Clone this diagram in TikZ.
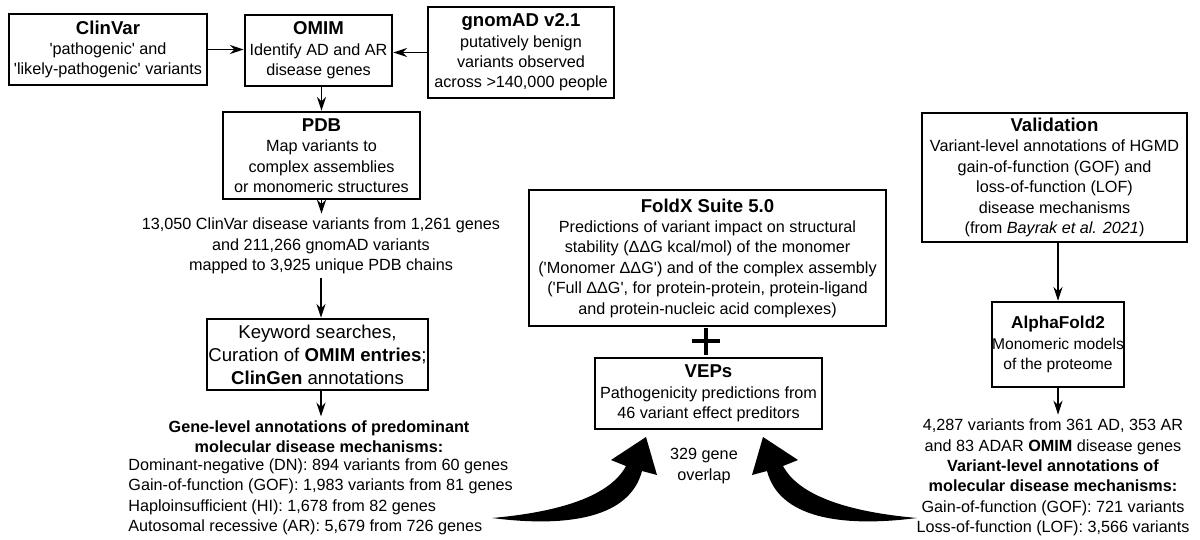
\documentclass[tikz,border=0pt]{standalone}
\usepackage{fontspec}
\setmainfont{Liberation Sans}
\usetikzlibrary{arrows.meta,calc}
\newcommand\hd[1]{{\fontsize{9.3}{11}\selectfont\bfseries #1}}
\newcommand\q{\textquotesingle}
\begin{document}
\begin{tikzpicture}[x=0.5pt,y=-0.5pt,
  every node/.style={font=\fontsize{8.1}{10.2}\selectfont, align=center, inner sep=0pt},
  box/.style={draw, line width=1.25pt},
  free/.style={inner sep=2pt},
  arr/.style={-{Stealth[length=7pt,width=4.6pt,inset=2.3pt]}, line width=0.55pt},
  bigarrow/.style={fill=black},
  plusbar/.style={line width=2.1pt},
]
\useasboundingbox (0,0) rectangle (1200,540);

% boxes
\node[box, minimum width=99pt, minimum height=35.5pt] (clinvar) at (108,49.5)
  {\hd{ClinVar}\\\q pathogenic\q{} and\\\q likely-pathogenic\q{} variants};
\node[box, minimum width=73.5pt, minimum height=35.5pt] (omim) at (318.5,50.5)
  {\hd{OMIM}\\Identify AD and AR\\disease genes};
\node[box, minimum width=93pt, minimum height=45.5pt] (gnomad) at (521,52.5)
  {\hd{gnomAD v2.1}\\putatively benign\\variants observed\\across >140,000 people};
\node[box, minimum width=98.5pt, minimum height=43.5pt] (pdb) at (321.5,155.5)
  {\hd{PDB}\\Map variants to\\complex assemblies\\or monomeric structures};
\node[free] (mapped) at (321,246)
  {13,050 ClinVar disease variants from 1,261 genes\\and 211,266 gnomAD variants\\mapped to 3,925 unique PDB chains};
\node[box, minimum width=110.5pt, minimum height=35.5pt, font=\fontsize{9.3}{11.5}\selectfont] (keyword) at (317.5,354.5)
  {Keyword searches,\\Curation of \textbf{OMIM entries};\\\textbf{ClinGen} annotations};
\node[free, font=\fontsize{8.1}{10.2}\selectfont\bfseries] (genehead) at (319,437)
  {Gene-level annotations of predominant\\molecular disease mechanisms:};
\node[anchor=west, align=left] (genelist) at (128,497)
  {Dominant-negative (DN): 894 variants from 60 genes\\
   Gain-of-function (GOF): 1,983 variants from 81 genes\\
   Haploinsufficient (HI): 1,678 from 82 genes\\
   Autosomal recessive (AR): 5,679 from 726 genes};

\node[box, minimum width=178.5pt, minimum height=68pt] (foldx) at (707.5,258)
  {\hd{FoldX Suite 5.0}\\Predictions of variant impact on structural\\
   stability (ΔΔG kcal/mol) of the monomer\\
   (\q Monomer ΔΔG\q) and of the complex assembly\\
   (\q Full ΔΔG\q, for protein-protein, protein-ligand\\
   and protein-nucleic acid complexes)};
\node[box, minimum width=113.5pt, minimum height=35.5pt] (veps) at (708.5,393.5)
  {\hd{VEPs}\\Pathogenicity predictions from\\46 variant effect preditors};
\node (overlap) at (704,466) {329 gene\\overlap};

\node[box, minimum width=132.5pt, minimum height=64.5pt] (valid) at (1054.5,177.5)
  {\hd{Validation}\\Variant-level annotations of HGMD\\gain-of-function (GOF) and\\
   loss-of-function (LOF)\\disease mechanisms\\(from \textit{Bayrak et al. 2021})};
\node[box, minimum width=46pt, minimum height=42.5pt, font=\fontsize{7.8}{10.2}\selectfont] (alpha) at (1058,344.5)
  {{\fontsize{8.6}{11}\selectfont\bfseries AlphaFold2}\\Monomeric models\\of the proteome};
\node[free] (varlevel) at (1053,477.5)
  {4,287 variants from 361 AD, 353 AR\\
   and 83 ADAR \textbf{OMIM} disease genes\\
   \textbf{Variant-level annotations of}\\
   \textbf{molecular disease mechanisms:}\\
   Gain-of-function (GOF): 721 variants\\
   Loss-of-function (LOF): 3,566 variants};

% connectors
\draw[arr] (clinvar.east) -- (clinvar.east -| omim.west);
\draw[arr] (gnomad.west) -- (gnomad.west -| omim.east);
\draw[arr] (pdb.north |- omim.south) -- (pdb.north);
\draw[arr] (pdb.south) -- (pdb.south |- mapped.north);
\draw[arr] (mapped.south) -- (mapped.south |- keyword.north);
\draw[arr] (mapped.south |- keyword.south) -- (mapped.south |- genehead.north);
\draw[arr] (alpha.north |- valid.south) -- (alpha.north);
\draw[arr] (alpha.south) -- (alpha.south |- varlevel.north);

% plus sign
\draw[plusbar] (692,341) -- (720,341);
\draw[plusbar] (706,328) -- (706,355);

% big curved arrows
\fill[bigarrow] (492,518) .. controls (560,512) and (610,496) .. (626,466)
  -- (611,460) -- (646,437) -- (657,475) -- (642,471)
  .. controls (630,517) and (570,528) .. cycle;
\fill[bigarrow] (917,518) .. controls (849,512) and (799,496) .. (783,466)
  -- (798,460) -- (763,437) -- (752,475) -- (767,471)
  .. controls (779,517) and (839,528) .. cycle;
\end{tikzpicture}
\end{document}
